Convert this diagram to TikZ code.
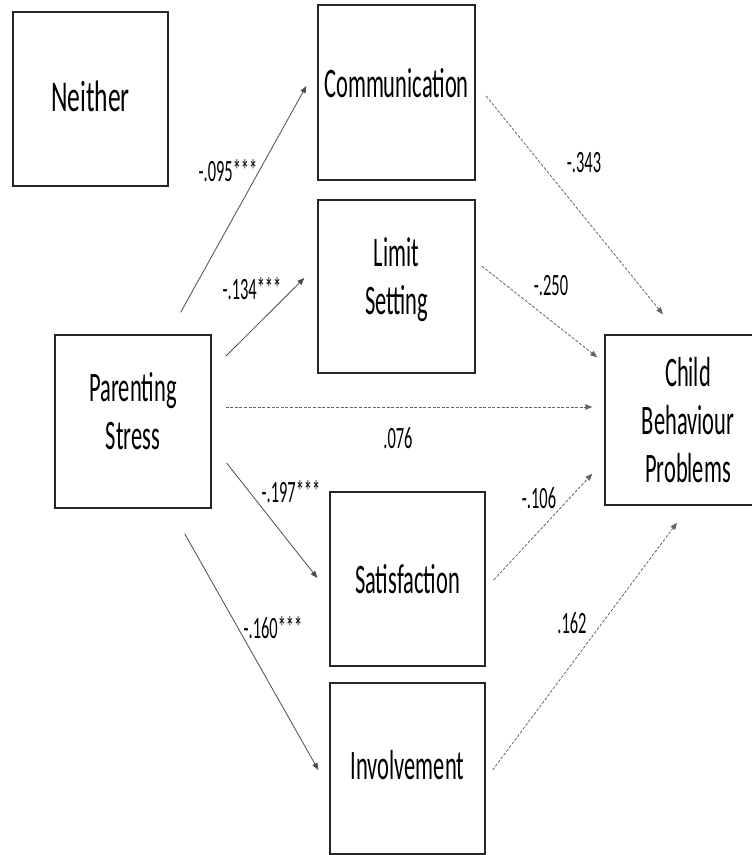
\documentclass[tikz,border=0pt]{standalone}
\usepackage{fontspec}
\setmainfont{Carlito}[FakeStretch=0.535]
\newfontfamily\neifont{Carlito}[FakeStretch=0.58]
\newfontfamily\coeffont{Carlito}[FakeStretch=0.53]
\usetikzlibrary{arrows.meta}
\begin{document}
\begin{tikzpicture}[x=1pt,y=-1pt,
  box/.style={draw=black!85,line width=1.3pt,inner sep=0pt,align=center,
    font=\fontsize{42pt}{48pt}\selectfont},
  coef/.style={inner sep=0pt,font=\coeffont\fontsize{31pt}{34pt}\selectfont},
  solidarrow/.style={draw=black!70,line width=0.8pt,-{Triangle[width=5.5pt,length=7pt]}},
  dasharrow/.style={draw=black!60,line width=0.8pt,dash pattern=on 3pt off 1.6pt,
    -{Triangle[width=5.5pt,length=7pt]}}]
\path[use as bounding box,clip] (0,0) rectangle (752,855);
% boxes
\node[box,minimum width=155pt,minimum height=174pt,font=\neifont\fontsize{44pt}{48pt}\selectfont,text depth=6pt] (nei) at (90.5,99) {Neither};
\node[box,minimum width=157pt,minimum height=175pt,text depth=19pt] (com) at (396.5,92.5) {Communication};
\node[box,minimum width=157pt,minimum height=173pt,text depth=21pt] (lim) at (396.5,286.5) {Limit\\Setting};
\node[box,minimum width=156pt,minimum height=173pt,text depth=22pt] (ps) at (133,421.5) {Parenting\\Stress};
\node[box,minimum width=166pt,minimum height=170pt] (cbp) at (688,420) {Child\\Behaviour\\Problems};
\node[box,minimum width=155pt,minimum height=174pt] (sat) at (407.5,579) {Satisfaction};
\node[box,minimum width=155pt,minimum height=171pt,text depth=8pt] (inv) at (407.5,768.5) {Involvement};
% paths a
\draw[solidarrow] ([shift={(-31,-22)}]ps.north east) -- ([shift={(-11,-6.5)}]com.west);
\draw[solidarrow] ([shift={(14,22)}]ps.north east) -- ([shift={(-13,-8.5)}]lim.west);
\draw[dasharrow] ([shift={(14,-14.5)}]ps.east) -- ([shift={(-12,-13)}]cbp.west);
\draw[solidarrow] ([shift={(15,41.5)}]ps.east) -- ([shift={(-12,-1)}]sat.west);
\draw[solidarrow] ([shift={(-27,25)}]ps.south east) -- ([shift={(-11,1.5)}]inv.west);
% paths b
\draw[dasharrow] ([shift={(10.5,3.5)}]com.east) -- ([shift={(-25,-20)}]cbp.north);
\draw[dasharrow] ([shift={(6,-20.5)}]lim.east) -- ([shift={(-7,23)}]cbp.north west);
\draw[dasharrow] ([shift={(8,1)}]sat.east) -- ([shift={(-12,-32)}]cbp.south west);
\draw[dasharrow] ([shift={(7,1.5)}]inv.east) -- ([shift={(-11,17)}]cbp.south);
% coefficients
\node[coef] (c1) at (228,171) {-.095***};
\node[coef] (c2) at (252,289) {-.134***};
\node[coef] (c3) at (398,438) {.076};
\node[coef] (c4) at (291,492) {-.197***};
\node[coef] (c5) at (273,628) {-.160***};
\node[coef] (c6) at (584,163) {-.343};
\node[coef] (c7) at (551,286) {-.250};
\node[coef] (c8) at (539,498) {-.106};
\node[coef] (c9) at (572,623) {.162};
\end{tikzpicture}
\end{document}
